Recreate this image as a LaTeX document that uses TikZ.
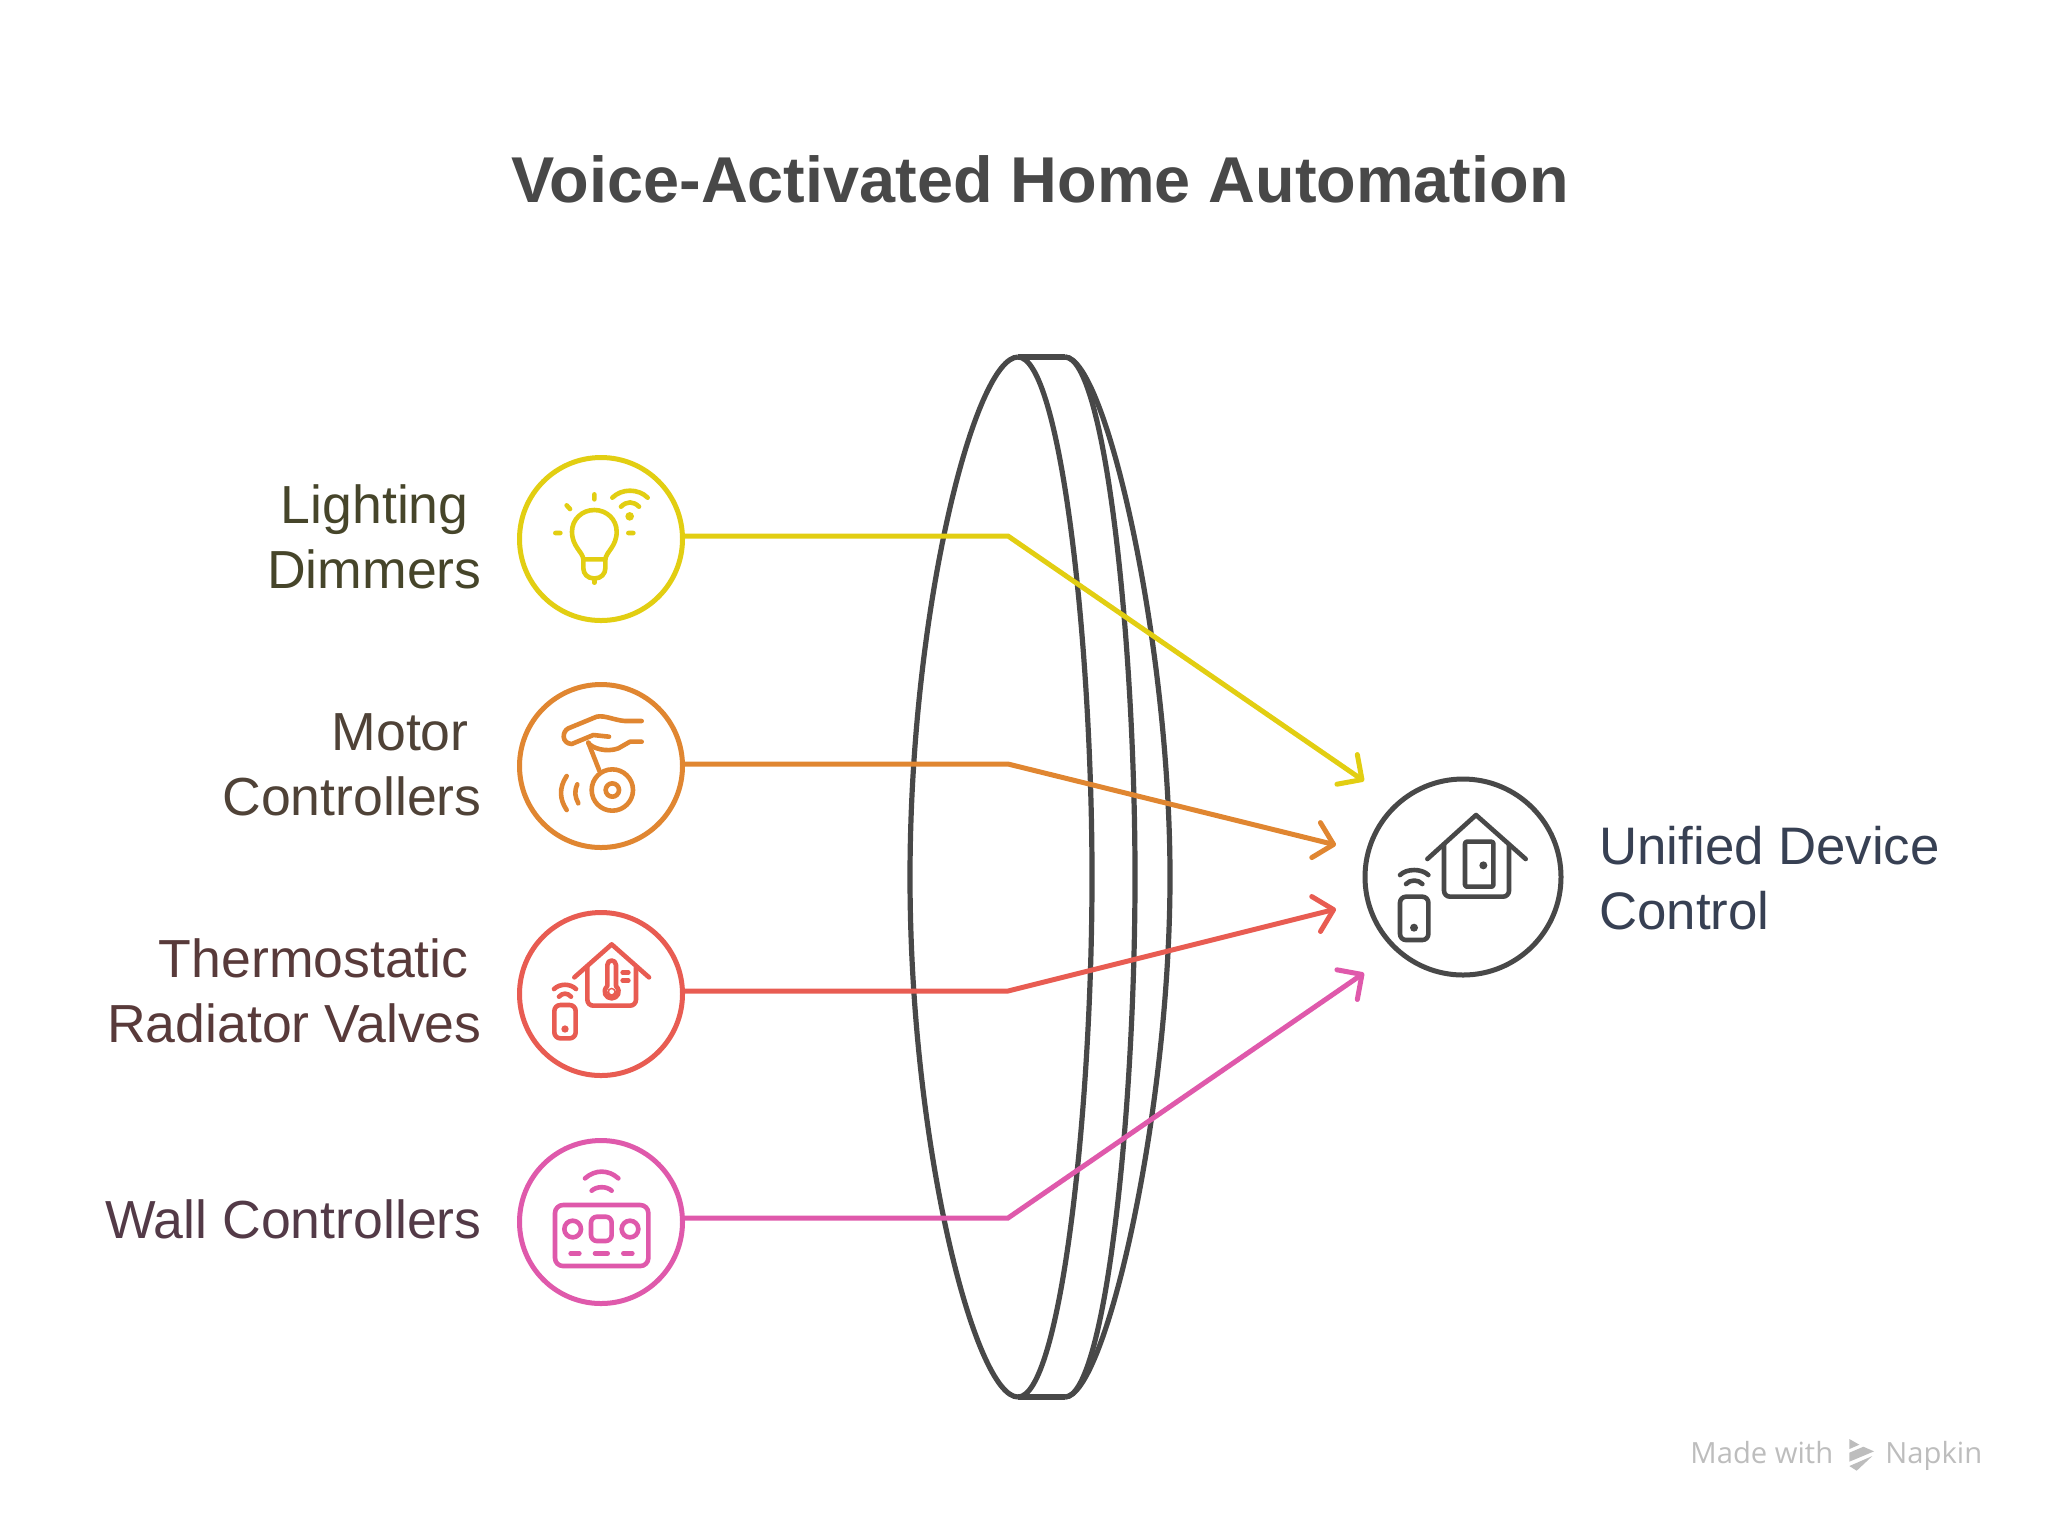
\documentclass[tikz,border=0pt]{standalone}
\usepackage{fontspec}
\usepackage{xcolor}
\setmainfont{Liberation Sans}
\newfontfamily\markfont{Open Sans}
\usetikzlibrary{arrows.meta}
\definecolor{ink}{HTML}{484848}
\definecolor{yellowline}{HTML}{E2CE12}
\definecolor{orangeline}{HTML}{E08631}
\definecolor{redline}{HTML}{E85C52}
\definecolor{pinkline}{HTML}{DF59AB}
\definecolor{yellowtext}{HTML}{46452A}
\definecolor{orangetext}{HTML}{4F4237}
\definecolor{redtext}{HTML}{583A3A}
\definecolor{pinktext}{HTML}{533A47}
\definecolor{bluetext}{HTML}{374053}
\definecolor{marktext}{HTML}{BDBDBD}
\tikzset{
  hub/.style={draw, circle, line width=2.5pt, minimum size=163pt/2, inner sep=0pt, fill=white},
  tag/.style={anchor=east, align=right, inner sep=0pt, font=\fontsize{26.8}{32.5}\selectfont},
  link/.style={line width=2.5pt, -{Straight Barb[length=9pt,width=18pt,round]}},
  lens/.style={draw=ink, line width=2.6pt},
  glyph/.style={line width=2.3pt, line cap=round, line join=round},
  zoomed/.style={x=0.16667pt, y=-0.16667pt},
  brand/.style={text=marktext, anchor=base west, inner sep=0pt, font=\markfont\fontsize{14.6}{17}\selectfont}
}
\begin{document}
\begin{tikzpicture}[x=0.5pt, y=-0.5pt]
\useasboundingbox (0,0) rectangle (2048,1528);
\node[font=\bfseries\fontsize{32.4}{40}\selectfont, text=ink] (title) at (1040,179) {Voice-Activated Home Automation};
% lens
\draw[lens] (1018,357) .. controls (975,357) and (910,610) .. (910,877) .. controls (910,1144) and (975,1397) .. (1018,1397);
\draw[lens] (1018,357) .. controls (1060,357) and (1092,640) .. (1092,877) .. controls (1092,1114) and (1060,1397) .. (1018,1397);
\draw[lens] (1018,357) -- (1065,357) (1018,1397) -- (1065,1397);
\draw[lens] (1065,357) .. controls (1105,357) and (1135,640) .. (1135,877) .. controls (1135,1114) and (1105,1397) .. (1065,1397);
\draw[lens] (1065,357) .. controls (1105,357) and (1170,640) .. (1170,877) .. controls (1170,1114) and (1105,1397) .. (1065,1397);
% circles
\node[hub, draw=yellowline] (dimmers) at (601,539) {};
\node[hub, draw=orangeline] (motors) at (601,766) {};
\node[hub, draw=redline] (valves) at (601,994) {};
\node[hub, draw=pinkline] (walls) at (601,1222) {};
\node[hub, draw=ink, minimum size=98pt] (unified) at (1463,877) {};
% labels
\node[tag, text=yellowtext] (dimmerstext) at (482,537) {Lighting\hspace*{6.5pt}\\Dimmers};
\node[tag, text=orangetext] (motorstext) at (482,765) {Motor\hspace*{6.5pt}\\Controllers};
\node[tag, text=redtext] (valvestext) at (482,991) {Thermostatic\hspace*{6.5pt}\\Radiator Valves};
\node[tag, text=pinktext] (wallstext) at (482,1219) {Wall Controllers};
\node[tag, anchor=west, align=left, text=bluetext, font=\fontsize{26.4}{32.5}\selectfont] (unifiedtext) at (1599,878) {Unified Device\\Control};
% connectors
\coordinate (bend1) at (1008,536);
\coordinate (bend2) at (1008,764);
\coordinate (bend3) at (1008,991);
\coordinate (bend4) at (1008,1218);
\coordinate (tip1) at (1364,781);
\coordinate (tip2) at (1336,845);
\coordinate (tip3) at (1336,909);
\coordinate (tip4) at (1364,973);
\draw[link, draw=yellowline] (dimmers.east |- bend1) -- (bend1) -- (tip1);
\draw[link, draw=orangeline] (motors.east |- bend2) -- (bend2) -- (tip2);
\draw[link, draw=redline] (valves.east |- bend3) -- (bend3) -- (tip3);
\draw[link, draw=pinkline] (walls.east |- bend4) -- (bend4) -- (tip4);
% bulb
\begin{scope}[shift={(500,440)}, zoomed, glyph, draw=yellowline]
\draw (250,358) .. controls (248,335) and (216,320) .. (216,275) .. controls (216,238) and (246,210) .. (283,210) .. controls (320,210) and (350,238) .. (350,275) .. controls (350,320) and (318,335) .. (316,358) -- cycle;
\draw[rounded corners=5pt] (250,358) -- (250,415) -- (316,415) -- (316,358);
\draw (283,415) -- (283,428);
\draw (283,163) -- (283,178) (200,196) -- (210,207) (166,279) -- (181,279) (385,279) -- (400,279);
\draw (337,173) .. controls (365,145) and (415,145) .. (443,173);
\draw (363,200) .. controls (380,183) and (400,183) .. (417,200);
\fill[yellowline] (389,229) circle[radius=13];
\end{scope}
% hand
\begin{scope}[shift={(500,440)}, zoomed, glyph, draw=orangeline]
\draw (425,843) -- (375,843) .. controls (340,840) and (315,825) .. (290,830) -- (205,865) .. controls (185,875) and (185,910) .. (215,912) -- (280,885) -- (327,890);
\draw (265,908) .. controls (275,925) and (320,938) .. (355,925) -- (390,905) -- (425,905);
\draw (265,908) -- (298,992);
\draw (337,1050) circle[radius=62];
\draw (337,1050) circle[radius=20];
\draw (200,1008) .. controls (175,1045) and (180,1080) .. (200,1110);
\draw (232,1033) .. controls (222,1055) and (225,1070) .. (235,1090);
\end{scope}
% thermostat
\begin{scope}[shift={(500,890)}, zoomed, glyph, draw=redline]
\draw (223,262) -- (335,163) -- (447,262);
\draw[rounded corners=3pt] (262,232) -- (262,347) -- (408,347) -- (408,232);
\draw (322,288) -- (322,225) .. controls (322,207) and (348,207) .. (348,225) -- (348,288) .. controls (365,305) and (352,325) .. (335,325) .. controls (318,325) and (305,305) .. (322,288);
\fill[redline] (335,307) circle[radius=14];
\fill[white] (335,305) circle[radius=7];
\draw (368,248) -- (385,248) (368,272) -- (385,272);
\draw[rounded corners=3pt] (163,345) rectangle (227,445);
\fill[redline] (195,417) circle[radius=11];
\draw (162,297) .. controls (180,280) and (210,280) .. (228,297);
\draw (177,320) .. controls (187,308) and (203,308) .. (213,320);
\end{scope}
% wall panel
\begin{scope}[shift={(500,890)}, zoomed, glyph, draw=pinkline]
\draw[rounded corners=4pt] (165,945) rectangle (445,1128);
\draw (218,1017) circle[radius=25];
\draw (390,1017) circle[radius=25];
\draw[rounded corners=3pt] (273,980) rectangle (335,1053);
\draw (212,1090) -- (238,1090) (285,1090) -- (323,1090) (370,1090) -- (397,1090);
\draw (255,865) .. controls (285,838) and (325,838) .. (355,865);
\draw (275,902) .. controls (290,888) and (320,888) .. (335,902);
\end{scope}
% smart home
\begin{scope}[shift={(1340,760)}, zoomed, glyph, draw=ink]
\draw (262,297) -- (408,165) -- (557,297);
\draw[rounded corners=3pt] (312,255) -- (312,410) -- (507,410) -- (507,255);
\draw[rounded corners=1pt] (375,245) rectangle (460,380);
\fill[ink] (430,316) circle[radius=12];
\draw[rounded corners=3pt] (180,410) rectangle (265,540);
\fill[ink] (222,503) circle[radius=12];
\draw (180,345) .. controls (200,325) and (245,325) .. (265,345);
\draw (198,372) .. controls (210,358) and (235,358) .. (247,372);
\end{scope}
% mark
\node[brand] (madewith) at (1690,1463) {Made with};
\node[brand] (napkin) at (1885,1463) {Napkin};
\begin{scope}[shift={(1660,1410)}, zoomed]
\fill[marktext] (568,87) -- (598,104) -- (568,117) -- cycle;
\fill[marktext] (568,128) -- (610,110) -- (642,124) -- (568,155) -- cycle;
\fill[marktext] (568,168) -- (637,138) -- (590,182) -- cycle;
\end{scope}
\end{tikzpicture}
\end{document}
